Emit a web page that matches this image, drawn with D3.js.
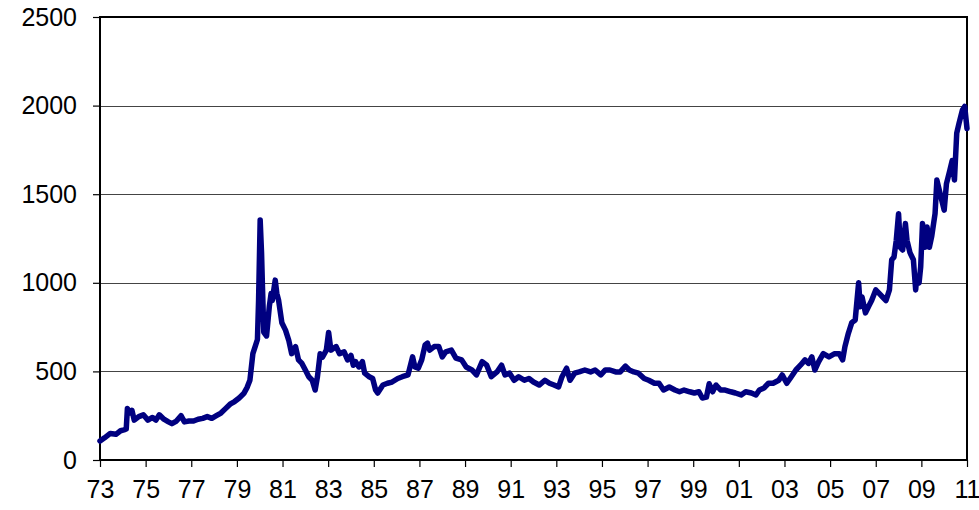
<!DOCTYPE html>
<html>
<head>
<meta charset="utf-8">
<script src="https://cdn.jsdelivr.net/npm/d3@7"></script>
<style>
  body { margin: 0; background: #fff; }
  text { font-family: "Liberation Sans", Arial, sans-serif; }
</style>
</head>
<body>
<div id="chart"></div>
<script>
// Price data, [decimal year, value]
const prices70s = [
  [1973.0,107],[1973.2,125],[1973.45,150],[1973.7,145],[1973.9,165],[1974.05,170],[1974.15,175],
  [1974.2,290],[1974.3,265],[1974.4,280],[1974.5,225],[1974.7,245],[1974.9,255],[1975.1,225],
  [1975.3,240],[1975.45,225],[1975.6,255],[1975.8,230],[1976.0,215],[1976.15,205],[1976.35,220],
  [1976.55,250],[1976.7,215],[1976.9,220],[1977.1,220],[1977.3,230],[1977.5,235],[1977.7,245],
  [1977.9,235],[1978.1,250],[1978.3,265],[1978.5,290],[1978.7,315],[1978.9,330],[1979.1,350],
  [1979.3,375],[1979.45,410],[1979.57,450],[1979.7,600],[1979.8,640],[1979.9,680],[1979.95,900],
  [1980.02,1355],[1980.08,1170],[1980.12,980],[1980.18,720],[1980.3,700],[1980.42,865],
  [1980.5,940],[1980.55,900],[1980.68,1015],[1980.75,940],[1980.83,900],[1980.97,775]
];
const prices80s = [
  [1981.13,733],[1981.27,677],[1981.4,600],[1981.57,640],[1981.7,565],[1981.85,545],[1982.0,508],
  [1982.15,470],[1982.3,450],[1982.43,395],[1982.53,470],[1982.65,600],[1982.75,580],[1982.92,620],
  [1983.02,720],[1983.12,620],[1983.35,640],[1983.5,600],[1983.7,610],[1983.85,565],[1984.0,590],
  [1984.1,535],[1984.2,555],[1984.35,525],[1984.5,555],[1984.6,490],[1984.8,470],[1984.95,460],
  [1985.08,395],[1985.17,378],[1985.4,423],[1985.6,433],[1985.8,440],[1986.05,460],[1986.25,470],
  [1986.5,480],[1986.7,582],[1986.8,525],[1986.95,518],[1987.1,565],[1987.25,650],[1987.35,660],
  [1987.45,620],[1987.65,640],[1987.85,640],[1988.0,582],[1988.15,610],[1988.4,620],[1988.6,575],
  [1988.85,565],[1989.05,525],[1989.3,508],[1989.5,480],[1989.75,555],[1989.95,535],[1990.15,470],
  [1990.4,497],[1990.6,535],[1990.75,480],[1990.95,490]
];
const prices90s = [
  [1991.15,450],[1991.35,470],[1991.6,450],[1991.8,460],[1992.0,440],[1992.25,423],[1992.5,450],
  [1992.7,433],[1992.9,423],[1993.1,412],[1993.25,470],[1993.45,518],[1993.6,450],[1993.8,490],
  [1994.0,497],[1994.25,508],[1994.5,497],[1994.7,508],[1994.95,480],[1995.15,508],[1995.35,508],
  [1995.6,497],[1995.8,497],[1996.03,530],[1996.2,508],[1996.4,497],[1996.6,490],[1996.85,460],
  [1997.05,450],[1997.3,433],[1997.5,433],[1997.7,395],[1997.95,412],[1998.2,395],[1998.4,385],
  [1998.6,395],[1998.85,385],[1999.05,378],[1999.25,385],[1999.4,350],[1999.58,355],[1999.7,430],
  [1999.85,385]
];
const prices00s = [
  [2000.0,423],[2000.2,395],[2000.4,395],[2000.65,385],[2000.85,378],[2001.1,367],[2001.3,385],
  [2001.55,378],[2001.75,367],[2001.9,395],[2002.1,406],[2002.3,433],[2002.5,433],[2002.75,450],
  [2002.9,480],[2003.1,433],[2003.3,470],[2003.5,508],[2003.7,535],[2003.9,565],[2004.05,545],
  [2004.2,582],[2004.33,508],[2004.5,555],[2004.7,600],[2004.95,582],[2005.2,600],[2005.4,600],
  [2005.55,565],[2005.65,640],[2005.8,715],[2005.95,775],[2006.1,790],[2006.25,1000],[2006.32,865],
  [2006.4,920],[2006.55,830],[2006.68,865],[2006.82,900],[2007.0,960],[2007.15,940],[2007.3,920],
  [2007.45,900],[2007.6,960],[2007.7,1130],[2007.8,1145],[2007.9,1240],[2008.0,1390],[2008.08,1200],
  [2008.18,1185],[2008.3,1335],[2008.37,1240],[2008.5,1170],[2008.65,1130],[2008.75,960],
  [2008.8,1035],[2008.9,1000],[2008.97,1090],[2009.05,1335],[2009.15,1200],[2009.25,1315],
  [2009.35,1200],[2009.45,1260],[2009.6,1390],[2009.68,1580],[2009.82,1505],[2010.0,1410],
  [2010.1,1560],[2010.25,1635],[2010.35,1690],[2010.45,1580],[2010.55,1845],[2010.65,1900],
  [2010.8,1975],[2010.9,1995],[2011.0,1870]
];

const xTickYears = d3.range(1973, 2012, 2);
const yTicks = [0, 500, 1000, 1500, 2000, 2500];

const data = [...prices70s, ...prices80s, ...prices90s, ...prices00s];

// Layout
const W = 979, H = 510;
const margin = { top: 17, right: 12, bottom: 50, left: 100 };
const width = W - margin.left - margin.right;
const height = H - margin.top - margin.bottom;

const svg = d3.select("#chart").append("svg")
    .attr("width", W)
    .attr("height", H);

const g = svg.append("g")
    .attr("transform", `translate(${margin.left},${margin.top})`);

const x = d3.scaleLinear().domain([1973, 2011]).range([0, width]);
const y = d3.scaleLinear().domain([0, 2500]).range([height, 0]);

// gridlines
g.append("g")
    .selectAll("line")
    .data(yTicks.filter(d => d > 0 && d < 2500))
    .enter().append("line")
    .attr("x1", 0).attr("x2", width)
    .attr("y1", d => Math.round(y(d)) + 0.5).attr("y2", d => Math.round(y(d)) + 0.5)
    .attr("stroke", "#444")
    .attr("stroke-width", 1);

// y axis
const yAxis = g.append("g")
    .call(d3.axisLeft(y).tickValues(yTicks).tickSize(7).tickPadding(16).tickFormat(d3.format("d")));
yAxis.select(".domain").remove();
yAxis.selectAll("line").attr("stroke", "#000").attr("stroke-width", 1.2);
yAxis.selectAll("text").attr("font-size", 25).attr("fill", "#000");

// x axis
const xAxis = g.append("g")
    .attr("transform", `translate(0,${height})`)
    .call(d3.axisBottom(x).tickValues(xTickYears).tickSize(7).tickPadding(13)
        .tickFormat(d => String(d % 100).padStart(2, "0")));
xAxis.select(".domain").remove();
xAxis.selectAll("line").attr("stroke", "#000").attr("stroke-width", 1.2);
xAxis.selectAll("text").attr("font-size", 25).attr("fill", "#000");

// plot frame
g.append("rect")
    .attr("x", 0).attr("y", 0)
    .attr("width", width).attr("height", height)
    .attr("fill", "none")
    .attr("stroke", "#000")
    .attr("stroke-width", 2);

// price line
const line = d3.line()
    .x(d => x(d[0]))
    .y(d => y(d[1]));

g.append("path")
    .datum(data)
    .attr("fill", "none")
    .attr("stroke", "#000080")
    .attr("stroke-width", 5.5)
    .attr("stroke-linejoin", "round")
    .attr("stroke-linecap", "round")
    .attr("d", line);
</script>
</body>
</html>
